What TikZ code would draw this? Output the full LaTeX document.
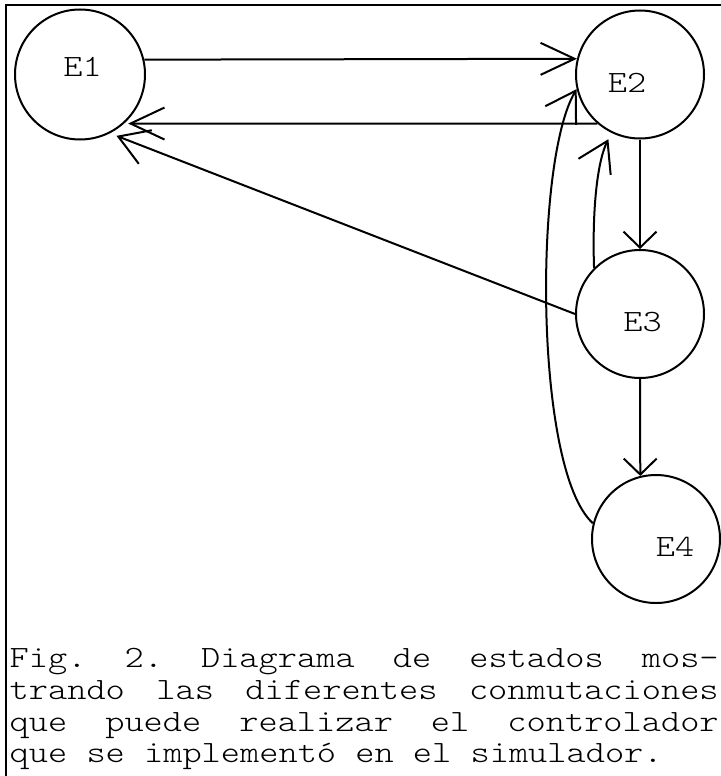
\documentclass[tikz,border=0pt]{standalone}
\usepackage{fontspec}
\newfontfamily\cour[FakeStretch=1.18]{lmmonolt10-regular.otf}
\usetikzlibrary{arrows.meta}
\tikzset{
  state/.style={draw, circle, line width=2pt, inner sep=0pt, minimum size=128pt},
  lbl/.style={inner sep=0pt, font=\cour\fontsize{31pt}{31pt}\selectfont},
  capline/.style={inner sep=0pt, anchor=base west, font=\cour\fontsize{31pt}{31pt}\selectfont},
  conn/.style={line width=2pt},
  harr/.style={conn, -{Straight Barb[length=34pt, width=32pt, line width=2pt]}},
  varr/.style={conn, -{Straight Barb[length=16pt, width=33pt, line width=2pt]}},
  carr/.style={conn, -{Straight Barb[length=29pt, width=36pt, line width=2pt]}}
}
\begin{document}
\begin{tikzpicture}[x=1pt, y=-1pt]
\useasboundingbox (0,0) rectangle (720,776);
% frame
\draw[line width=2pt] (5.5,800) -- (5.5,5) -- (740,5);
% states
\node[state, minimum size=130pt] (E1) at (80,74.5) {};
\node[state] (E2) at (640,74.5) {};
\node[state] (E3) at (640,314) {};
\node[state] (E4) at (656,539) {};
\node[lbl] (t1) at (82.5,67) {E1};
\node[lbl] (t2) at (627,83) {E2};
\node[lbl] (t3) at (642.5,322.5) {E3};
\node[lbl] (t4) at (675,547) {E4};
% connectors
\draw[harr] (E1.13.5) -- (E2.166.3);
\draw[harr, shorten >=4pt] (E2.-131) -- (E1.-48);
\draw[carr, shorten >=7pt] (E3.west) -- (E1.-63);
\draw[varr] (E2.south) -- (E3.north);
\draw[varr] (E3.south) -- (E4.104.5);
\draw[carr, shorten >=7pt] (E3.135) .. controls +(-2,-60) and +(-14,28) .. (E2.-116);
\draw[carr] (E4.166) .. controls +(-59,-53) and +(-43,71) .. (E2.193);
% caption
\node[capline] (c1) at (9.5,667) {\makebox[709pt]{Fig.\hfill 2.\hfill Diagrama\hfill de\hfill estados\hfill mos-}};
\node[capline] (c2) at (9.5,699) {\makebox[709pt]{trando\hfill las\hfill diferentes\hfill conmutaciones}};
\node[capline] (c3) at (9.5,731) {\makebox[709pt]{que\hfill puede\hfill realizar\hfill el\hfill controlador}};
\node[capline] (c4) at (9.5,762) {que se implementó en el simulador.};
\end{tikzpicture}
\end{document}
